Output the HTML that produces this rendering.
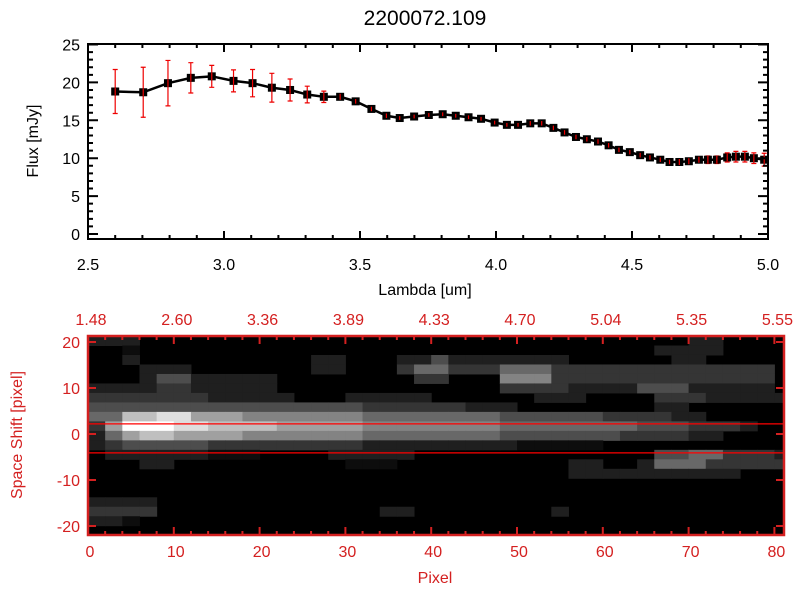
<!DOCTYPE html>
<html><head><meta charset="utf-8">
<style>
html,body{margin:0;padding:0;background:#fff;}
svg{display:block;font-family:"Liberation Sans",sans-serif;}
</style></head>
<body>
<svg id="chart" width="800" height="600" viewBox="0 0 800 600" xmlns="http://www.w3.org/2000/svg">
<rect width="800" height="600" fill="#fff"/>
<text x="425" y="25" font-size="21" text-anchor="middle" fill="#000">2200072.109</text>
<g id="top"></g>
<g id="bottom"></g>
</svg>
<script>
const lambdas=[2.600,2.703,2.794,2.878,2.955,3.035,3.105,3.176,3.243,3.306,3.367,3.427,3.484,3.542,3.597,3.646,3.699,3.753,3.804,3.852,3.899,3.945,3.995,4.040,4.081,4.126,4.168,4.211,4.252,4.294,4.334,4.375,4.414,4.452,4.492,4.530,4.566,4.604,4.638,4.674,4.709,4.746,4.779,4.812,4.850,4.882,4.915,4.948,4.986];
const fluxes=[18.8,18.7,19.9,20.6,20.8,20.2,19.9,19.3,19.0,18.4,18.1,18.1,17.5,16.5,15.6,15.3,15.5,15.7,15.8,15.6,15.4,15.2,14.7,14.4,14.4,14.6,14.6,14.0,13.4,12.8,12.5,12.2,11.7,11.1,10.8,10.4,10.1,9.8,9.5,9.5,9.6,9.8,9.8,9.8,10.1,10.2,10.2,10.0,9.8];
const errors=[2.9,3.3,3.0,2.0,1.45,1.45,1.8,1.9,1.45,1.1,0.75,0.4,0.3,0.3,0.3,0.25,0.25,0.25,0.25,0.25,0.25,0.25,0.25,0.25,0.25,0.3,0.3,0.3,0.3,0.3,0.3,0.3,0.3,0.3,0.3,0.3,0.3,0.3,0.3,0.4,0.4,0.4,0.5,0.5,0.6,0.7,0.7,0.7,0.85];
const xTickLabels=["2.5","3.0","3.5","4.0","4.5","5.0"];
const xTickValues=[2.5,3.0,3.5,4.0,4.5,5.0];
const yTickValues=[0,5,10,15,20,25];
const topPixelLabels=["1.48","2.60","3.36","3.89","4.33","4.70","5.04","5.35","5.55"];
const pixelTicks=[0,10,20,30,40,50,60,70,80];
const shiftTicks=[-20,-10,0,10,20];
const redLines=[2.2,-4.1];
// image intensity rows (0-9, a = 10), top (shift +21) to bottom, 2-pixel columns
const imgRows=[
"22200000000000000000000000000000000220000",
"00100000000000000000000000000000022220000",
"00200000000002200022422222220000002200000",
"00022200000002200035533355533333333333330",
"00024422222000000003300066633333333333330",
"22223322222000000000000033332222444222220",
"33333332222200022222000000222000033322222",
"44444444444444443333332220000000022000000",
"558899777666666655555555444444333322",
"37aaa9988887777766666666555555554443332",
"2578877776666666555555554444444333322",
"23444443333333332222222221111100000000",
"02222221110000222220000000000000044553332",
"00022000000000011100000000002200255533333",
"00000000000000000000000000002222222222000",
"00000000000000000000000000000000000000000",
"00000000000000000000000000000000000000000",
"22220000000000000000000000000000000000000",
"33330000000000000220000000020000000000000",
"22100000000000000000000000000000000000000",
"00000000000000000000000000000000000000000"];
const NS="http://www.w3.org/2000/svg";
function mk(parent,tag,attrs){const e=document.createElementNS(NS,tag);for(const k in attrs)e.setAttribute(k,attrs[k]);parent.appendChild(e);return e;}

// ---- top plot ----
const T=document.getElementById('top');
const tx=v=>88+(v-2.5)*272;
const ty=v=>234-v*7.58;
let g=mk(T,'g',{});


lambdas.forEach((l,i)=>{
  const x=tx(l),y1=ty(fluxes[i]+errors[i]),y2=ty(fluxes[i]-errors[i]);
  const eb=mk(g,'path',{d:`M${x},${y1}V${y2}M${x-2.5},${y1}h5M${x-2.5},${y2}h5`,stroke:'#e00',fill:'none','stroke-width':1.2});
  
  
});
const line=mk(g,'polyline',{points:lambdas.map((l,i)=>tx(l)+','+ty(fluxes[i])).join(' '),fill:'none',stroke:'#000','stroke-width':2.5});


lambdas.forEach((l,i)=>{
  const p=mk(g,'rect',{x:tx(l)-4,y:ty(fluxes[i])-4,width:8,height:8,fill:'#000'});
  
  
  const eb=mk(g,'path',{d:`M${tx(l)},${ty(fluxes[i]+Math.min(errors[i],0.5))}V${ty(fluxes[i]-Math.min(errors[i],0.5))}`,stroke:'#e00','stroke-width':1.2});
  
  
});
const fr=mk(T,'rect',{x:88,y:44,width:680,height:195,fill:'none',stroke:'#000','stroke-width':2});


xTickValues.forEach((v,i)=>{
  const x=tx(v);
  mk(T,'path',{d:`M${x},239v-8M${x},44v8`,stroke:'#000','stroke-width':2});
  const t=mk(T,'text',{x:x,y:270,'font-size':16,'text-anchor':'middle',fill:'#000'});t.textContent=xTickLabels[i];
  
  
  if(i<xTickValues.length-1){for(let k=1;k<5;k++){const xm=tx(v+k*0.1);mk(T,'path',{d:`M${xm},239v-4M${xm},44v4`,stroke:'#000','stroke-width':2});}}
});
yTickValues.forEach(v=>{
  const y=ty(v);
  mk(T,'path',{d:`M88,${y}h10M768,${y}h-10`,stroke:'#000','stroke-width':2});
  for(let k=1;k<5&&v<25;k++){const ym=ty(v+k);mk(T,'path',{d:`M88,${ym}h5M768,${ym}h-5`,stroke:'#000','stroke-width':2});}
  const t=mk(T,'text',{x:80,y:y+6,'font-size':16,'text-anchor':'end',fill:'#000'});t.textContent=v;
  
  
});
let lt=mk(T,'text',{x:425,y:295,'font-size':16,'text-anchor':'middle',fill:'#000'});lt.textContent='Lambda [um]';


lt=mk(T,'text',{x:38,y:141,'font-size':16,'text-anchor':'middle',fill:'#000',transform:'rotate(-90 38 141)'});lt.textContent='Flux [mJy]';



// ---- bottom image ----
const B=document.getElementById('bottom');
const px=v=>88+v*8.58;
const sy=v=>434-v*4.6;
const red='#d42020';
const clip=mk(B,'clipPath',{id:'ic'});mk(clip,'rect',{x:88,y:336,width:696,height:199});
const ig=mk(B,'g',{'clip-path':'url(#ic)'});


mk(ig,'rect',{x:88,y:336,width:696,height:199,fill:'#000'});
const rowH=(21.3+22)/imgRows.length;
imgRows.forEach((rowRaw,r)=>{
  const row=rowRaw.padEnd(41,'0').slice(0,41);
  for(let c=0;c<row.length;c++){
    const v=parseInt(row[c],16);if(!v)continue;
    const g2=Math.min(255,Math.round(255*Math.pow(v/10,1.3)));
    const yTop=21.3-r*rowH;
    const cell=mk(ig,'rect',{x:px(c*2),y:sy(yTop),width:px(c*2+2)-px(c*2)+0.5,height:rowH*4.6+0.5,fill:`rgb(${g2},${g2},${g2})`});
    
    
  }
});
redLines.forEach(v=>{
  const l=mk(B,'line',{x1:88,x2:784,y1:sy(v),y2:sy(v),stroke:'#f00','stroke-width':1.2});
  
  
});
const bf=mk(B,'rect',{x:88,y:336,width:696,height:199,fill:'none',stroke:red,'stroke-width':2.5});


pixelTicks.forEach((v,i)=>{
  const x=px(v);
  mk(B,'path',{d:`M${x},535v-8M${x},336v8`,stroke:red,'stroke-width':2});
  for(let k=2;k<10;k+=2){const xm=px(v+k);if(xm<784)mk(B,'path',{d:`M${xm},535v-4M${xm},336v4`,stroke:red,'stroke-width':2});}
  let t=mk(B,'text',{x:x+2,y:557,'font-size':16,'text-anchor':'middle',fill:red});t.textContent=v;
  
  
  t=mk(B,'text',{x:x+3,y:325,'font-size':16,'text-anchor':'middle',fill:red});t.textContent=topPixelLabels[i];
  
  
});
shiftTicks.forEach(v=>{
  const y=sy(v);
  mk(B,'path',{d:`M88,${y}h8M784,${y}h-8`,stroke:red,'stroke-width':2});
  const t=mk(B,'text',{x:80,y:y+6,'font-size':16,'text-anchor':'end',fill:red});t.textContent=v;
  
  
});
lt=mk(B,'text',{x:435,y:583,'font-size':16,'text-anchor':'middle',fill:red});lt.textContent='Pixel';


lt=mk(B,'text',{x:22,y:435,'font-size':16,'text-anchor':'middle',fill:red,transform:'rotate(-90 22 435)'});lt.textContent='Space Shift [pixel]';


</script>
</body></html>
